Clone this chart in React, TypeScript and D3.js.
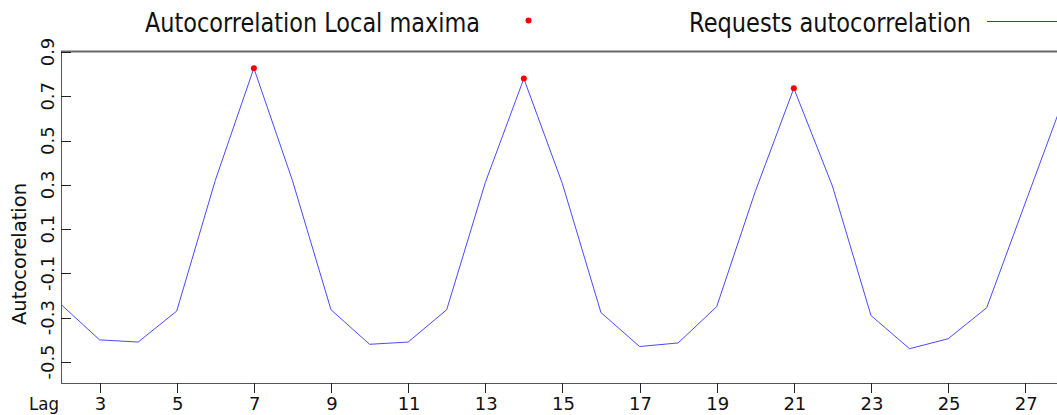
import React from "react";
import * as d3 from "d3";

const lags = [2, 3, 4, 5, 6, 7, 8, 9, 10, 11, 12, 13, 14, 15, 16, 17, 18, 19, 20, 21, 22, 23, 24, 25, 26, 27, 28];
const acf = [
  -0.24, -0.4, -0.41, -0.27, 0.32, 0.827, 0.32, -0.264, -0.42, -0.41, -0.264, 0.31, 0.78, 0.305,
  -0.277, -0.43, -0.414, -0.25, 0.27, 0.736, 0.295, -0.29, -0.44, -0.395, -0.255, 0.218, 0.69,
];
const maxLags = [7, 14, 21];
const maxVals = [0.827, 0.78, 0.736];
const xTicks = [3, 5, 7, 9, 11, 13, 15, 17, 19, 21, 23, 25, 27];
const yTicks = [-0.5, -0.3, -0.1, 0.1, 0.3, 0.5, 0.7, 0.9];

const W = 1057;
const H = 415;
const left = 61;
const top = 52;
const bottom = 383;

const App = () => {
  const x = d3.scaleLinear().domain([2, 28]).range([left, left + 26 * 38.57]);
  const y = d3.scaleLinear().domain([-0.5, 0.9]).range([362, top]);
  const line = d3
    .line<number>()
    .x((_, i) => x(lags[i]))
    .y(d => y(d));
  const font = "Verdana, DejaVu Sans, sans-serif";

  return (
    <svg width={W} height={H} style={{ position: "absolute", left: 0, top: 0, background: "#fff" }}>
      <defs>
        <clipPath id="plot">
          <rect x={left} y={top} width={W - left} height={bottom - top} />
        </clipPath>
      </defs>

      {/* legend */}
      <text x={145} y={32} fontFamily={font} fontSize={26} textLength={335} lengthAdjust="spacingAndGlyphs" fill="#111">
        Autocorrelation Local maxima
      </text>
      <circle cx={528.5} cy={20.5} r={3} fill="red" />
      <text x={689} y={32} fontFamily={font} fontSize={26} textLength={282} lengthAdjust="spacingAndGlyphs" fill="#111">
        Requests autocorrelation
      </text>
      <line x1={987} x2={1057} y1={21.5} y2={21.5} stroke="#3333ee" strokeWidth={1} />

      {/* frame */}
      <line x1={left} x2={W} y1={top - 0.5} y2={top - 0.5} stroke="#666" strokeWidth={2} />
      <line x1={left + 0.5} x2={left + 0.5} y1={top - 1} y2={bottom} stroke="#555" strokeWidth={1} />
      <line x1={left} x2={W} y1={bottom + 0.5} y2={bottom + 0.5} stroke="#555" strokeWidth={1} />

      {/* y axis */}
      {yTicks.map(t => (
        <g key={t}>
          <line x1={left} x2={left + 10} y1={Math.round(y(t)) + 0.5} y2={Math.round(y(t)) + 0.5} stroke="#222" />
          <text
            transform={`translate(54 ${y(t)}) rotate(-90)`}
            textAnchor="middle"
            fontFamily={font}
            fontSize={18}
            fill="#111"
          >
            {t.toFixed(1)}
          </text>
        </g>
      ))}
      <text
        transform={`translate(26 254) rotate(-90)`}
        textAnchor="middle"
        fontFamily={font}
        fontSize={19}
        textLength={142}
        lengthAdjust="spacingAndGlyphs"
        fill="#111"
      >
        Autocorelation
      </text>

      {/* x axis */}
      {xTicks.map(t => (
        <g key={t}>
          <line x1={Math.round(x(t)) + 0.5} x2={Math.round(x(t)) + 0.5} y1={bottom} y2={bottom + 10} stroke="#222" />
          <text x={x(t) + 1} y={410} textAnchor="middle" fontFamily={font} fontSize={18} fill="#111">
            {t}
          </text>
        </g>
      ))}
      <text x={29} y={410} fontFamily={font} fontSize={18} textLength={30} lengthAdjust="spacingAndGlyphs" fill="#111">
        Lag
      </text>

      {/* series */}
      <g clipPath="url(#plot)">
        <path d={line(acf) || ""} fill="none" stroke="#4a4aff" strokeWidth={1} />
        {maxLags.map((l, i) => (
          <circle key={l} cx={x(l)} cy={y(maxVals[i])} r={3} fill="red" />
        ))}
      </g>
    </svg>
  );
};

export default App;
